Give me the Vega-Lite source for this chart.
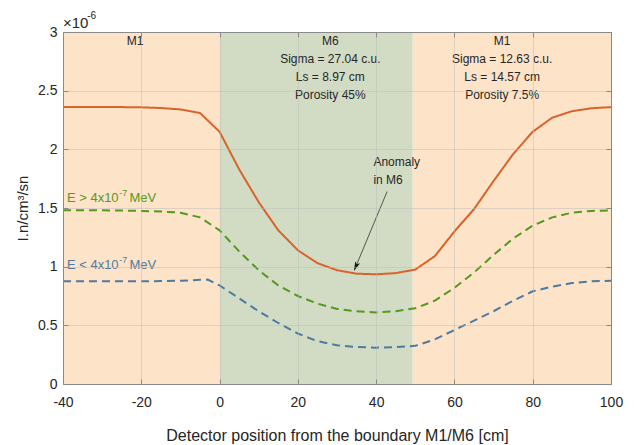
{
  "$schema": "https://vega.github.io/schema/vega-lite/v6.json",
  "width": 548,
  "height": 352,
  "autosize": "none",
  "padding": {"left": 63, "top": 32, "right": 23, "bottom": 61},
  "background": "white",
  "config": {
    "font": "Liberation Sans",
    "view": {"stroke": null},
    "axis": {
      "labelFont": "Liberation Sans",
      "titleFont": "Liberation Sans",
      "labelFontSize": 14,
      "titleFontSize": 16,
      "titleFontWeight": "normal",
      "labelColor": "#262626",
      "titleColor": "#262626",
      "domainColor": "#8a8a8a",
      "tickColor": "#8a8a8a",
      "gridColor": "#b8b8b8",
      "gridOpacity": 0.45
    }
  },
  "datasets": {
    "peach": [{"start": -40, "end": 0}, {"start": 49.3, "end": 100}],
    "green": [{"start": 0, "end": 49.3}],
    "curves": [
      {"x": -40, "y": 2.36, "series": "total"}, {"x": -35, "y": 2.36, "series": "total"}, {"x": -30, "y": 2.36, "series": "total"}, {"x": -25, "y": 2.36, "series": "total"}, {"x": -20, "y": 2.358, "series": "total"}, {"x": -15, "y": 2.352, "series": "total"}, {"x": -10, "y": 2.34, "series": "total"}, {"x": -5, "y": 2.31, "series": "total"}, {"x": 0, "y": 2.15, "series": "total"}, {"x": 5, "y": 1.83, "series": "total"}, {"x": 10, "y": 1.55, "series": "total"}, {"x": 15, "y": 1.31, "series": "total"}, {"x": 20, "y": 1.14, "series": "total"}, {"x": 25, "y": 1.03, "series": "total"}, {"x": 30, "y": 0.97, "series": "total"}, {"x": 35, "y": 0.94, "series": "total"}, {"x": 40, "y": 0.935, "series": "total"}, {"x": 45, "y": 0.945, "series": "total"}, {"x": 50, "y": 0.975, "series": "total"}, {"x": 55, "y": 1.09, "series": "total"}, {"x": 60, "y": 1.3, "series": "total"}, {"x": 65, "y": 1.49, "series": "total"}, {"x": 70, "y": 1.73, "series": "total"}, {"x": 75, "y": 1.96, "series": "total"}, {"x": 80, "y": 2.15, "series": "total"}, {"x": 85, "y": 2.27, "series": "total"}, {"x": 90, "y": 2.325, "series": "total"}, {"x": 95, "y": 2.35, "series": "total"}, {"x": 100, "y": 2.36, "series": "total"},
      {"x": -40, "y": 1.48, "series": "high"}, {"x": -35, "y": 1.48, "series": "high"}, {"x": -30, "y": 1.48, "series": "high"}, {"x": -25, "y": 1.478, "series": "high"}, {"x": -20, "y": 1.475, "series": "high"}, {"x": -15, "y": 1.47, "series": "high"}, {"x": -10, "y": 1.46, "series": "high"}, {"x": -5, "y": 1.42, "series": "high"}, {"x": 0, "y": 1.31, "series": "high"}, {"x": 5, "y": 1.13, "series": "high"}, {"x": 10, "y": 0.97, "series": "high"}, {"x": 15, "y": 0.84, "series": "high"}, {"x": 20, "y": 0.75, "series": "high"}, {"x": 25, "y": 0.685, "series": "high"}, {"x": 30, "y": 0.64, "series": "high"}, {"x": 35, "y": 0.62, "series": "high"}, {"x": 40, "y": 0.61, "series": "high"}, {"x": 45, "y": 0.62, "series": "high"}, {"x": 50, "y": 0.645, "series": "high"}, {"x": 55, "y": 0.71, "series": "high"}, {"x": 60, "y": 0.82, "series": "high"}, {"x": 65, "y": 0.95, "series": "high"}, {"x": 70, "y": 1.1, "series": "high"}, {"x": 75, "y": 1.24, "series": "high"}, {"x": 80, "y": 1.35, "series": "high"}, {"x": 85, "y": 1.42, "series": "high"}, {"x": 90, "y": 1.46, "series": "high"}, {"x": 95, "y": 1.475, "series": "high"}, {"x": 100, "y": 1.48, "series": "high"},
      {"x": -40, "y": 0.875, "series": "low"}, {"x": -35, "y": 0.875, "series": "low"}, {"x": -30, "y": 0.875, "series": "low"}, {"x": -25, "y": 0.875, "series": "low"}, {"x": -20, "y": 0.876, "series": "low"}, {"x": -15, "y": 0.877, "series": "low"}, {"x": -10, "y": 0.88, "series": "low"}, {"x": -5, "y": 0.888, "series": "low"}, {"x": -3, "y": 0.89, "series": "low"}, {"x": 0, "y": 0.84, "series": "low"}, {"x": 5, "y": 0.73, "series": "low"}, {"x": 10, "y": 0.62, "series": "low"}, {"x": 15, "y": 0.52, "series": "low"}, {"x": 20, "y": 0.43, "series": "low"}, {"x": 25, "y": 0.365, "series": "low"}, {"x": 30, "y": 0.33, "series": "low"}, {"x": 35, "y": 0.315, "series": "low"}, {"x": 40, "y": 0.31, "series": "low"}, {"x": 45, "y": 0.315, "series": "low"}, {"x": 50, "y": 0.325, "series": "low"}, {"x": 55, "y": 0.38, "series": "low"}, {"x": 60, "y": 0.46, "series": "low"}, {"x": 65, "y": 0.54, "series": "low"}, {"x": 70, "y": 0.62, "series": "low"}, {"x": 75, "y": 0.71, "series": "low"}, {"x": 80, "y": 0.79, "series": "low"}, {"x": 85, "y": 0.83, "series": "low"}, {"x": 90, "y": 0.86, "series": "low"}, {"x": 95, "y": 0.875, "series": "low"}, {"x": 100, "y": 0.88, "series": "low"}
    ],
    "serieslabels": [
      {"x": -39.0, "y": 1.585, "label": "E > 4x10", "series": "high"},
      {"x": -39.0, "y": 1.01, "label": "E < 4x10", "series": "low"},
      {"x": -23.0, "y": 1.585, "label": "MeV", "series": "high"},
      {"x": -23.0, "y": 1.01, "label": "MeV", "series": "low"}
    ],
    "seriessup": [
      {"x": -25.6, "y": 1.63, "label": "-7", "series": "high"},
      {"x": -25.6, "y": 1.055, "label": "-7", "series": "low"}
    ],
    "notes": [
      {"x": -21.6, "y": 2.92, "label": "M1"},
      {"x": 28.3, "y": 2.92, "label": "M6"},
      {"x": 28.3, "y": 2.77, "label": "Sigma = 27.04 c.u."},
      {"x": 28.3, "y": 2.62, "label": "Ls = 8.97 cm"},
      {"x": 28.3, "y": 2.465, "label": "Porosity 45%"},
      {"x": 72.2, "y": 2.92, "label": "M1"},
      {"x": 72.2, "y": 2.77, "label": "Sigma = 12.63 c.u."},
      {"x": 72.2, "y": 2.62, "label": "Ls = 14.57 cm"},
      {"x": 72.2, "y": 2.465, "label": "Porosity 7.5%"}
    ],
    "anomaly": [
      {"x": 39.3, "y": 1.89, "label": "Anomaly"},
      {"x": 39.3, "y": 1.74, "label": "in M6"}
    ],
    "arrow": [{"x": 42.8, "y": 1.64, "x2": 34.8, "y2": 1.0}],
    "exponent": [{"x": -40, "y": 3.075, "label": "×10"}],
    "exponentsup": [{"x": -33.8, "y": 3.135, "label": "-6"}]
  },
  "resolve": {"axis": {"x": "independent", "y": "independent"}},
  "layer": [
    {
      "data": {"name": "peach"},
      "mark": {"type": "rect", "color": "#fde3c8"},
      "encoding": {
        "x": {"field": "start", "type": "quantitative", "scale": {"domain": [-40, 100], "nice": false, "zero": false}, "axis": null},
        "x2": {"field": "end"}
      }
    },
    {
      "data": {"name": "green"},
      "mark": {"type": "rect", "color": "#d2dcc4"},
      "encoding": {
        "x": {"field": "start", "type": "quantitative", "axis": null},
        "x2": {"field": "end"}
      }
    },
    {
      "data": {"name": "curves"},
      "mark": {"type": "line", "strokeWidth": 2},
      "encoding": {
        "x": {"field": "x", "type": "quantitative", "scale": {"domain": [-40, 100], "nice": false, "zero": false},
          "axis": {"orient": "bottom", "values": [-40, -20, 0, 20, 40, 60, 80, 100], "labelExpr": "toString(datum.value)", "labelFlush": false, "grid": true, "zindex": 1, "tickSize": -5, "labelPadding": 16, "title": "Detector position from the boundary M1/M6 [cm]", "titlePadding": 18}},
        "y": {"field": "y", "type": "quantitative", "scale": {"domain": [0, 3], "nice": false},
          "axis": {"orient": "left", "values": [0, 0.5, 1, 1.5, 2, 2.5, 3], "format": "~g", "labelFlush": false, "grid": true, "zindex": 1, "tickSize": -5, "labelPadding": 11, "title": "I.n/cm³/sn", "titleFontSize": 15, "titlePadding": 7}},
        "color": {"field": "series", "type": "nominal", "scale": {"domain": ["total", "high", "low"], "range": ["#d9632a", "#519a1c", "#4f7aa0"]}, "legend": null},
        "strokeDash": {"field": "series", "type": "nominal", "scale": {"domain": ["total", "high", "low"], "range": [[1, 0], [8, 5], [8, 5]]}, "legend": null}
      }
    },
    {
      "data": {"name": "serieslabels"},
      "mark": {"type": "text", "align": "left", "baseline": "middle", "fontSize": 13},
      "encoding": {
        "x": {"field": "x", "type": "quantitative", "axis": null},
        "y": {"field": "y", "type": "quantitative", "axis": null},
        "text": {"field": "label"},
        "color": {"field": "series", "type": "nominal", "scale": {"domain": ["total", "high", "low"], "range": ["#d9632a", "#519a1c", "#6f88a8"]}, "legend": null}
      }
    },
    {
      "data": {"name": "seriessup"},
      "mark": {"type": "text", "align": "left", "baseline": "middle", "fontSize": 9},
      "encoding": {
        "x": {"field": "x", "type": "quantitative", "axis": null},
        "y": {"field": "y", "type": "quantitative", "axis": null},
        "text": {"field": "label"},
        "color": {"field": "series", "type": "nominal", "legend": null}
      }
    },
    {
      "data": {"name": "notes"},
      "mark": {"type": "text", "align": "center", "baseline": "middle", "fontSize": 12, "color": "#262626"},
      "encoding": {
        "x": {"field": "x", "type": "quantitative",
          "axis": {"orient": "top", "values": [-40, -20, 0, 20, 40, 60, 80, 100], "labels": false, "title": null, "grid": false, "zindex": 1, "tickSize": -5}},
        "y": {"field": "y", "type": "quantitative",
          "axis": {"orient": "right", "values": [0, 0.5, 1, 1.5, 2, 2.5, 3], "labels": false, "title": null, "grid": false, "zindex": 1, "tickSize": -5}},
        "text": {"field": "label"}
      }
    },
    {
      "data": {"name": "anomaly"},
      "mark": {"type": "text", "align": "left", "baseline": "middle", "fontSize": 12, "color": "#262626"},
      "encoding": {
        "x": {"field": "x", "type": "quantitative", "axis": null},
        "y": {"field": "y", "type": "quantitative", "axis": null},
        "text": {"field": "label"}
      }
    },
    {
      "data": {"name": "arrow"},
      "mark": {"type": "rule", "color": "#333333", "strokeWidth": 0.8},
      "encoding": {
        "x": {"field": "x", "type": "quantitative", "axis": null},
        "y": {"field": "y", "type": "quantitative", "axis": null},
        "x2": {"field": "x2"},
        "y2": {"field": "y2"}
      }
    },
    {
      "data": {"name": "arrow"},
      "mark": {"type": "point", "shape": "M0,-1L0.55,1L0,0.55L-0.55,1Z", "filled": true, "color": "#1a1a1a", "size": 90, "angle": 203, "opacity": 1},
      "encoding": {
        "x": {"field": "x2", "type": "quantitative", "axis": null},
        "y": {"field": "y2", "type": "quantitative", "axis": null}
      }
    },
    {
      "data": {"name": "exponent"},
      "mark": {"type": "text", "align": "left", "baseline": "middle", "fontSize": 15, "color": "#262626"},
      "encoding": {
        "x": {"field": "x", "type": "quantitative", "axis": null},
        "y": {"field": "y", "type": "quantitative", "axis": null},
        "text": {"field": "label"}
      }
    },
    {
      "data": {"name": "exponentsup"},
      "mark": {"type": "text", "align": "left", "baseline": "middle", "fontSize": 10, "color": "#262626"},
      "encoding": {
        "x": {"field": "x", "type": "quantitative", "axis": null},
        "y": {"field": "y", "type": "quantitative", "axis": null},
        "text": {"field": "label"}
      }
    }
  ]
}
